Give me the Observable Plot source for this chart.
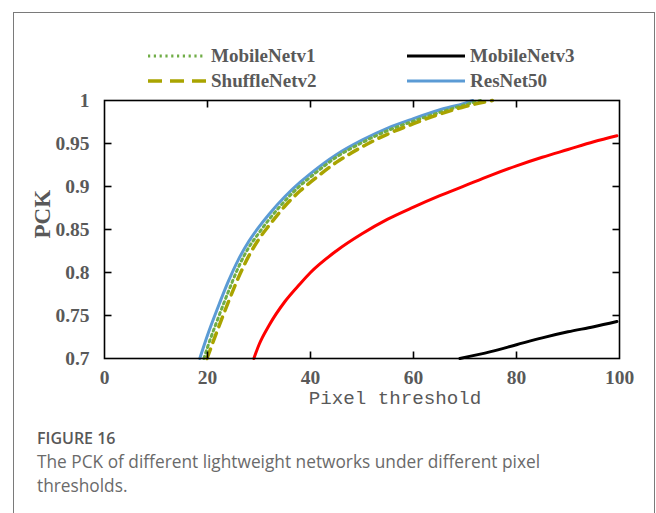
<!DOCTYPE html>
<html><head><meta charset="utf-8">
<script src="https://cdn.jsdelivr.net/npm/d3@7"></script>
<script src="https://cdn.jsdelivr.net/npm/@observablehq/plot@0.6"></script>
<style>
body{margin:0;background:#fff;width:656px;height:513px;overflow:hidden;position:relative;}
#card{position:absolute;left:13px;top:12px;width:642px;height:560px;border:1.5px solid #7a7a7a;box-sizing:border-box;}
#chart{position:absolute;left:0;top:0;}
.leg{position:absolute;display:flex;align-items:center;font-family:"Liberation Serif";font-weight:bold;font-size:19px;color:#595959;white-space:nowrap;}
.leg svg{margin-right:5px;}
#fig{position:absolute;left:37px;top:427px;font-family:"Open Sans";font-weight:600;font-size:16px;color:#585858;}
#cap{position:absolute;left:37px;top:450px;width:565px;font-family:"Open Sans";font-size:17.3px;line-height:24px;color:#6a6a6a;}
</style></head>
<body>
<div id="card"></div>
<div id="chart"></div>
<div id="legendbox"></div>
<div id="fig">FIGURE 16</div>
<div id="cap">The PCK of different lightweight networks under different pixel thresholds.</div>
<script>
// Data
const mobilev1X = [19.3, 20, 22, 24, 26, 28, 30, 32, 35, 38, 40, 45, 50, 55, 60, 65, 70, 73];
const mobilev1Y = [0.700, 0.713, 0.746, 0.777, 0.806, 0.829, 0.846, 0.862, 0.883, 0.901, 0.911, 0.934, 0.951, 0.965, 0.976, 0.986, 0.995, 1.000];
const shuffleX = [19.9, 22, 24, 26, 28, 30, 32, 35, 38, 40, 45, 50, 55, 60, 65, 70, 75.3];
const shuffleY = [0.700, 0.734, 0.765, 0.794, 0.819, 0.839, 0.855, 0.877, 0.895, 0.905, 0.928, 0.946, 0.961, 0.973, 0.984, 0.993, 1.000];
const resnetX = [18.5, 20, 22, 24, 26, 28, 30, 32, 35, 38, 40, 45, 50, 55, 60, 65, 70, 71.5];
const resnetY = [0.700, 0.727, 0.759, 0.789, 0.815, 0.836, 0.853, 0.868, 0.888, 0.905, 0.915, 0.937, 0.954, 0.968, 0.979, 0.989, 0.997, 1.000];
const mobilev3X = [69, 75, 80, 85, 90, 95, 99.5];
const mobilev3Y = [0.700, 0.708, 0.716, 0.724, 0.731, 0.737, 0.743];
const redX = [29, 30, 32, 35, 38, 40, 45, 50, 55, 60, 65, 70, 75, 80, 85, 90, 95, 99.5];
const redY = [0.700, 0.716, 0.739, 0.766, 0.787, 0.800, 0.825, 0.845, 0.862, 0.876, 0.889, 0.901, 0.913, 0.924, 0.934, 0.943, 0.952, 0.959];
const xTicks = [0, 20, 40, 60, 80, 100];
const yTicks = [0.7, 0.75, 0.8, 0.85, 0.9, 0.95, 1];
const innerTicksX = [20, 40, 60, 80];
const innerTicksY = [0.75, 0.8, 0.85, 0.9, 0.95];
const legendNames = ["MobileNetv1", "MobileNetv3", "ShuffleNetv2", "ResNet50"];
const xTitle = "Pixel threshold";
const yTitle = "PCK";

const toRows = (xs, ys) => xs.map((x, i) => ({x, y: ys[i]}));
const series = {
  MobileNetv1: {rows: toRows(mobilev1X, mobilev1Y), stroke: "#70AD47", width: 3, dash: "2.2,3.6"},
  ShuffleNetv2: {rows: toRows(shuffleX, shuffleY), stroke: "#A9A400", width: 3.5, dash: "10,7"},
  ResNet50: {rows: toRows(resnetX, resnetY), stroke: "#5B9BD5", width: 3, dash: null},
  MobileNetv3: {rows: toRows(mobilev3X, mobilev3Y), stroke: "#000000", width: 3, dash: null},
  Other: {rows: toRows(redX, redY), stroke: "#FF0000", width: 3, dash: null}
};

const fmt = d => String(+d.toFixed(2));
const xDom = [xTicks[0], xTicks[xTicks.length - 1]];
const yDom = [yTicks[0], yTicks[yTicks.length - 1]];
const W = 656, H = 420, ML = 104, MR = 37, MT = 100, MB = 62;
const pw = W - ML - MR, ph = H - MT - MB, tk = 7;
// inward tick length (px) expressed in data units
const tx = (xDom[1] - xDom[0]) * tk / pw;
const ty = (yDom[1] - yDom[0]) * tk / ph;

const lineMark = s => Plot.line(s.rows, {x: "x", y: "y", stroke: s.stroke, strokeWidth: s.width, strokeDasharray: s.dash, curve: "monotone-x"});
const tickStyle = {stroke: "black", strokeWidth: 1.6};
const xt = innerTicksX.map(x => ({x}));
const yt = innerTicksY.map(y => ({y}));

const chart = Plot.plot({
  width: W, height: H,
  marginLeft: ML, marginRight: MR, marginTop: MT, marginBottom: MB,
  style: {color: "#595959", background: "transparent", overflow: "visible"},
  x: {domain: xDom},
  y: {domain: yDom},
  marks: [
    lineMark(series.Other),
    lineMark(series.MobileNetv3),
    lineMark(series.ResNet50),
    lineMark(series.MobileNetv1),
    lineMark(series.ShuffleNetv2),
    Plot.link(xt, {x1: "x", x2: "x", y1: () => yDom[0], y2: () => yDom[0] + ty, ...tickStyle}),
    Plot.link(xt, {x1: "x", x2: "x", y1: () => yDom[1] - ty, y2: () => yDom[1], ...tickStyle}),
    Plot.link(yt, {y1: "y", y2: "y", x1: () => xDom[0], x2: () => xDom[0] + tx, ...tickStyle}),
    Plot.link(yt, {y1: "y", y2: "y", x1: () => xDom[1] - tx, x2: () => xDom[1], ...tickStyle}),
    Plot.frame({stroke: "#000", strokeWidth: 1.6}),
    Plot.axisX({ticks: xTicks, tickSize: 0, tickPadding: 12, tickFormat: fmt, label: null,
      fontFamily: "Liberation Serif", fontWeight: "bold", fontSize: 19.5}),
    Plot.axisY({ticks: yTicks, tickSize: 0, tickPadding: 15, tickFormat: fmt, label: null,
      fontFamily: "Liberation Serif", fontWeight: "bold", fontSize: 19.5}),
    Plot.text([xTitle], {text: d => d, frameAnchor: "bottom", dx: 33, dy: 45, fill: "#595959",
      fontFamily: "Liberation Mono", fontSize: 19.2}),
    Plot.text([yTitle], {text: d => d, frameAnchor: "left", dx: -62, dy: 9, rotate: -90, fill: "#595959",
      fontFamily: "Liberation Serif", fontWeight: "bold", fontSize: 23})
  ]
});
document.getElementById("chart").appendChild(chart);

// Legend (HTML)
const legPos = {MobileNetv1: [148, 45], MobileNetv3: [407, 45], ShuffleNetv2: [148, 70], ResNet50: [407, 70]};
const box = document.getElementById("legendbox");
for (const name of legendNames) {
  const s = series[name];
  const d = document.createElement("div");
  d.className = "leg";
  d.style.left = legPos[name][0] + "px";
  d.style.top = legPos[name][1] + "px";
  const sw = d3.create("svg").attr("width", 58).attr("height", 12);
  sw.append("line").attr("x1", 0).attr("x2", 58).attr("y1", 6).attr("y2", 6)
    .attr("stroke", s.stroke).attr("stroke-width", s.width)
    .attr("stroke-dasharray", name === "ShuffleNetv2" ? "14,8" : s.dash);
  d.appendChild(sw.node());
  const t = document.createElement("span");
  t.textContent = name;
  d.appendChild(t);
  box.appendChild(d);
}
</script>
</body></html>
